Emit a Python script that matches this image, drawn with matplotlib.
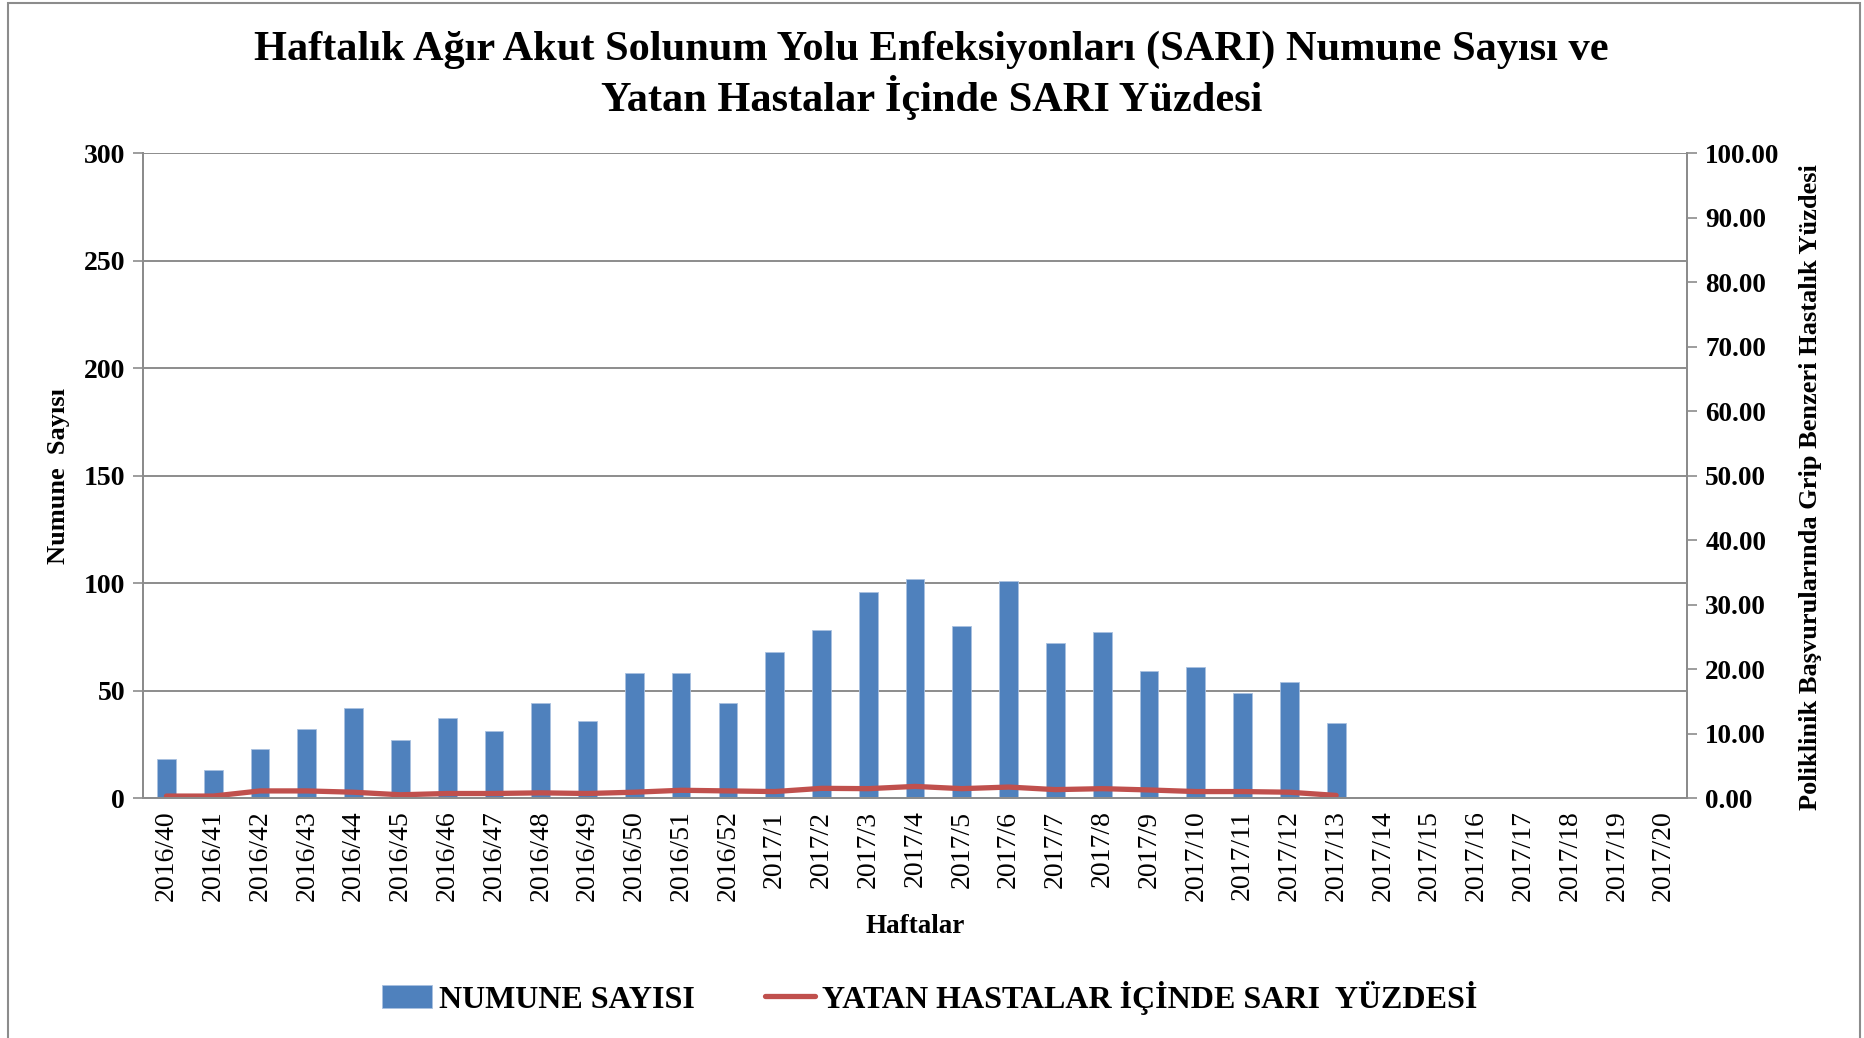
import matplotlib
matplotlib.use("Agg")
import matplotlib.pyplot as plt
from matplotlib.patches import Rectangle
from matplotlib.ticker import MultipleLocator, FormatStrFormatter

# haftalar (kategori ekseni)
weeks = [f"2016/{w}" for w in range(40, 53)] + [f"2017/{w}" for w in range(1, 21)]

# numune sayısı (sol eksen)
numune = [18, 13, 23, 32, 42, 27, 37, 31, 44, 36, 58, 58, 44,
          68, 78, 96, 102, 80, 101, 72, 77, 59, 61, 49, 54, 35]

# yatan hastalar içinde SARI yüzdesi (sağ eksen)
sari_yuzde = [0.3, 0.3, 1.1, 1.1, 0.9, 0.5, 0.7, 0.7, 0.8, 0.7, 0.9, 1.2, 1.1,
              1.0, 1.5, 1.45, 1.8, 1.45, 1.7, 1.3, 1.45, 1.25, 1.0, 1.0, 0.9, 0.4]

BLUE = "#4F81BD"
RED = "#C0504D"
GRID = "#8C8C8C"

plt.rcParams["font.family"] = ["Liberation Serif", "DejaVu Serif"]

fig = plt.figure(figsize=(18.65, 10.38), dpi=100)
ax = fig.add_axes([0.0767, 0.2312, 0.8279, 0.6214])
ax2 = ax.twinx()

x = list(range(len(weeks)))
bars = ax.bar(x[:len(numune)], numune, width=0.4, color=BLUE,
              edgecolor="#A9C1E0", linewidth=0.6, label="NUMUNE SAYISI", zorder=2)
line, = ax2.plot(x[:len(sari_yuzde)], sari_yuzde, color=RED, linewidth=3.8,
                 solid_capstyle="round", label="YATAN HASTALAR İÇİNDE SARI  YÜZDESİ")

ax.set_xlim(-0.5, len(weeks) - 0.5)
ax.set_ylim(0, 300)
ax.yaxis.set_major_locator(MultipleLocator(50))
ax2.set_ylim(0, 100)
ax2.yaxis.set_major_locator(MultipleLocator(10))
ax2.yaxis.set_major_formatter(FormatStrFormatter("%.2f"))

ax.grid(axis="y", color=GRID, linewidth=1.4, zorder=0)
ax.set_axisbelow(True)

ax.set_xticks(x)
ax.set_xticklabels(weeks, rotation=90, fontsize=20)
ax.tick_params(axis="x", length=0, pad=9)
ax.tick_params(axis="y", length=7, width=1.2, color=GRID, labelsize=20, pad=6)
ax2.tick_params(axis="y", length=7, width=1.2, color=GRID, labelsize=19.5, pad=6)
for lab in ax.get_yticklabels() + ax2.get_yticklabels():
    lab.set_fontweight("bold")

for a in (ax, ax2):
    a.spines["top"].set_visible(False)
    for s in ("left", "right", "bottom"):
        a.spines[s].set_color(GRID)
        a.spines[s].set_linewidth(1.4)

ax.set_ylabel("Numune  Sayısı", fontsize=19, fontweight="bold", labelpad=10)
ax2.set_ylabel("Poliklinik Başvurularında Grip Benzeri Hastalık Yüzdesi",
               fontsize=19, fontweight="bold", labelpad=14)
ax2.yaxis.label.set_y(0.482)
ax.set_xlabel("Haftalar", fontsize=19.5, fontweight="bold", labelpad=9)

fig.text(0.4995, 0.952, "Haftalık Ağır Akut Solunum Yolu Enfeksiyonları (SARI) Numune Sayısı ve",
         ha="center", va="center", fontsize=30.5, fontweight="bold")
fig.text(0.4995, 0.906, "Yatan Hastalar İçinde SARI Yüzdesi",
         ha="center", va="center", fontsize=30.5, fontweight="bold")

fig.legend(handles=[bars, line], loc="center", bbox_to_anchor=(0.4985, 0.039),
           ncol=2, frameon=False, prop={"weight": "bold", "size": 23},
           handlelength=1.55, handletextpad=0.22, columnspacing=2.2)

# dış çerçeve
fig.patches.append(Rectangle((8 / 1865, -0.05), 1852 / 1865, 1.047,
                             transform=fig.transFigure, fill=False,
                             edgecolor=GRID, linewidth=1.5))

fig.savefig("out.png", dpi=100)
